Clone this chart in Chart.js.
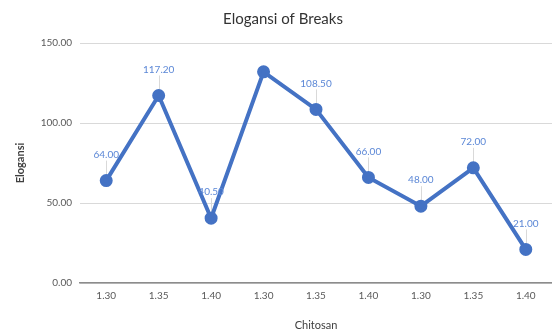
<!DOCTYPE html>
<html lang="en">
<head>
    <meta charset="UTF-8">
    <title>Elogansi of Breaks</title>
    <script src="https://cdn.jsdelivr.net/npm/chart.js"></script>
    <style>
        html, body { margin: 0; padding: 0; background: #fff; }
        .chart-container { width: 552px; height: 332px; }
    </style>
</head>
<body>
    <div class="chart-container">
        <canvas id="chart1"></canvas>
    </div>
    <script>
        const chitosan = ["1.30", "1.35", "1.40", "1.30", "1.35", "1.40", "1.30", "1.35", "1.40"];
        const elogansi = [64.0, 117.2, 40.5, 132.0, 108.5, 66.0, 48.0, 72.0, 21.0];
        // the 4th point has no label in the original
        const pointLabels = ["64.00", "117.20", "40.50", "", "108.50", "66.00", "48.00", "72.00", "21.00"];

        const fontFamily = "Lato, 'Open Sans', sans-serif";

        // value labels with a little leader line, like the spreadsheet chart
        const labelPlugin = {
            id: "pointLabels",
            beforeDatasetsDraw(chart) {
                const ctx = chart.ctx;
                const meta = chart.getDatasetMeta(0);
                ctx.save();
                ctx.strokeStyle = "#d9d9d9";
                ctx.lineWidth = 1;
                meta.data.forEach((pt, i) => {
                    if (!pointLabels[i]) return;
                    ctx.beginPath();
                    ctx.moveTo(Math.round(pt.x) + 0.5, pt.y - 20);
                    ctx.lineTo(Math.round(pt.x) + 0.5, pt.y - 4);
                    ctx.stroke();
                });
                ctx.restore();
            },
            afterDatasetsDraw(chart) {
                const ctx = chart.ctx;
                const meta = chart.getDatasetMeta(0);
                ctx.save();
                ctx.font = "10px " + fontFamily;
                ctx.fillStyle = "#5b87d6";
                ctx.textAlign = "center";
                ctx.textBaseline = "middle";
                meta.data.forEach((pt, i) => {
                    if (!pointLabels[i]) return;
                    ctx.fillText(pointLabels[i], pt.x, pt.y - 26);
                });
                ctx.restore();
            }
        };

        const ctx = document.getElementById("chart1").getContext("2d");
        new Chart(ctx, {
            type: "line",
            data: {
                labels: chitosan,
                datasets: [{
                    label: "Elogansi",
                    data: elogansi,
                    borderColor: "#4472c4",
                    backgroundColor: "#4472c4",
                    borderWidth: 4,
                    pointRadius: 4.5,
                    pointHoverRadius: 4.5,
                    fill: false,
                    tension: 0
                }]
            },
            options: {
                responsive: true,
                maintainAspectRatio: false,
                animation: false,
                layout: { autoPadding: false, padding: { left: 14, right: 0, top: 0, bottom: 0 } },
                plugins: {
                    legend: { display: false },
                    tooltip: { enabled: false },
                    title: {
                        display: true,
                        text: "Elogansi of Breaks",
                        color: "#333333",
                        font: { family: fontFamily, size: 15, weight: "normal", lineHeight: 1.2 },
                        padding: { top: 10, bottom: 15 }
                    }
                },
                scales: {
                    x: {
                        offset: true,
                        grid: { display: false, drawTicks: false, offset: true },
                        border: { display: true, color: "#8c8c8c", width: 1.5 },
                        ticks: { color: "#595959", font: { family: fontFamily, size: 10 }, padding: 7 },
                        title: {
                            display: true,
                            text: "Chitosan",
                            color: "#404040",
                            font: { family: fontFamily, size: 11 },
                            padding: 0
                        },
                        afterFit(scale) { scale.height = 49; }
                    },
                    y: {
                        min: 0,
                        max: 150,
                        ticks: {
                            stepSize: 50,
                            color: "#595959",
                            font: { family: fontFamily, size: 10 },
                            padding: 8,
                            callback: (v) => Number(v).toFixed(2)
                        },
                        grid: { color: "#d9d9d9", lineWidth: 1, drawTicks: false },
                        border: { display: false },
                        title: {
                            display: true,
                            text: "Elogansi",
                            color: "#404040",
                            font: { family: fontFamily, size: 11, weight: "bold" },
                            padding: 0
                        },
                        afterFit(scale) { scale.width = 66; }
                    }
                }
            },
            plugins: [labelPlugin]
        });
    </script>
</body>
</html>
